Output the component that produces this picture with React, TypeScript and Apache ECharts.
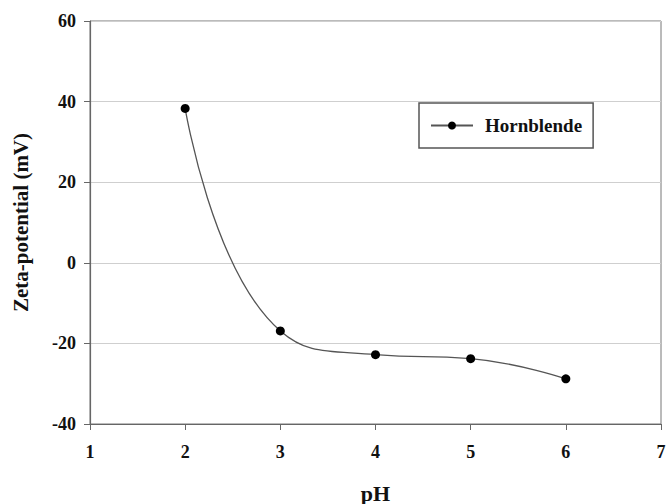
import React, { useEffect, useRef } from "react";
import * as echarts from "echarts";

const phValues = [2, 3, 4, 5, 6];
const zetaValues = [38.3, -16.9, -22.8, -23.8, -28.8];
const seriesName = "Hornblende";
const xTicks = [1, 2, 3, 4, 5, 6, 7];
const yTicks = [-40, -20, 0, 20, 40, 60];

export default function App() {
  const ref = useRef<HTMLDivElement>(null);
  useEffect(() => {
    if (!ref.current) return;
    const chart = echarts.init(ref.current, undefined, { renderer: "svg" });
    const font = "'Liberation Serif', 'Times New Roman', serif";
    chart.setOption({
      animation: false,
      grid: {
        left: 90, right: 5, top: 21, bottom: 80,
        outerBoundsMode: "none",
        containLabel: false,
        show: true, borderColor: "#777", borderWidth: 1,
      },
      legend: {
        show: true,
        left: 419,
        top: 103,
        orient: "vertical",
        padding: [13, 11, 13, 11],
        borderColor: "#555",
        borderWidth: 1.5,
        itemWidth: 42,
        itemHeight: 10,
        itemGap: 10,
        textStyle: { fontFamily: font, fontWeight: "bold", fontSize: 19, color: "#111", padding: [0, 0, 0, 7] },
        data: [{ name: seriesName }],
      },
      xAxis: {
        type: "value",
        min: xTicks[0],
        max: xTicks[xTicks.length - 1],
        interval: 1,
        name: "pH",
        nameLocation: "middle",
        nameGap: 58,
        nameTextStyle: { fontFamily: font, fontWeight: "bold", fontSize: 22, color: "#111" },
        axisLine: { show: true, onZero: false, lineStyle: { color: "#666", width: 1.2 } },
        axisTick: { show: true, inside: false, length: 6, lineStyle: { color: "#666" } },
        axisLabel: { fontFamily: font, fontWeight: "bold", fontSize: 18, color: "#111", margin: 19 },
        splitLine: { show: false },
      },
      yAxis: {
        type: "value",
        min: yTicks[0],
        max: yTicks[yTicks.length - 1],
        interval: 20,
        name: "Zeta-potential (mV)",
        nameLocation: "middle",
        nameGap: 59,
        nameTextStyle: { fontFamily: font, fontWeight: "bold", fontSize: 21, color: "#111" },
        axisLine: { show: true, onZero: false, lineStyle: { color: "#666", width: 1.2 } },
        axisTick: { show: true, inside: false, length: 6, lineStyle: { color: "#666" } },
        axisLabel: { fontFamily: font, fontWeight: "bold", fontSize: 18, color: "#111", margin: 14 },
        splitLine: { show: true, lineStyle: { color: "#cfcfcf", width: 1 } },
      },
      series: [
        {
          name: seriesName,
          type: "line",
          data: phValues.map((x, i) => [x, zetaValues[i]]),
          smooth: 0.5,
          symbol: "circle",
          symbolSize: 9,
          itemStyle: { color: "#000" },
          lineStyle: { color: "#555", width: 1.3 },
        },
      ],
    });
    return () => chart.dispose();
  }, []);
  return <div ref={ref} style={{ width: 666, height: 504, position: "absolute", left: 0, top: 0 }} />;
}
